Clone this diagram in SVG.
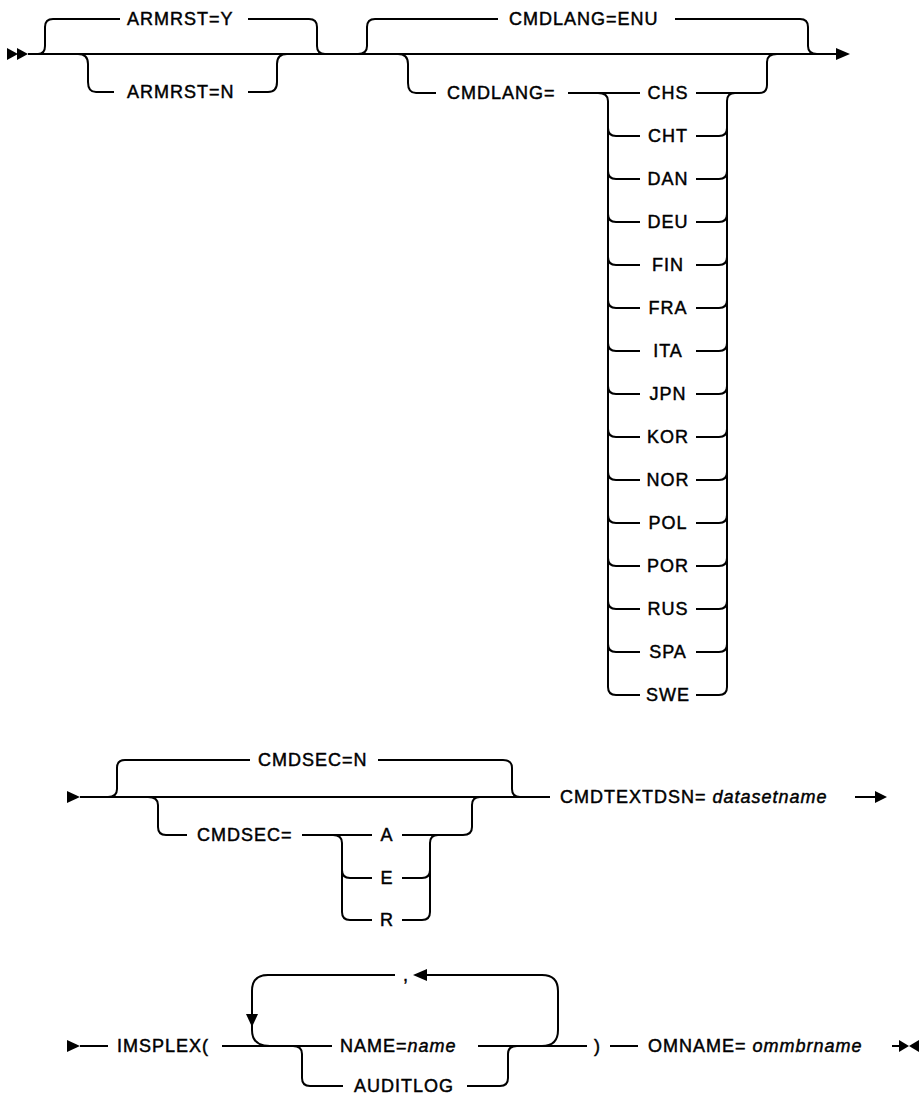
<svg xmlns="http://www.w3.org/2000/svg" width="921" height="1095" viewBox="0 0 921 1095">
<style>
.l{fill:none;stroke:#000;stroke-width:2;stroke-linecap:butt}
.h{fill:#000}
text{font-family:"Liberation Sans",Arial,sans-serif;font-size:18px;letter-spacing:1px;fill:#000;stroke:#000;stroke-width:0.45px}
.i{font-style:italic}
.c{text-anchor:middle}
</style>
<rect width="921" height="1095" fill="#fff"/>
<g id="connectors">
<path class="l" d="M28 54 H836"/>
<path class="l" d="M38 54 Q45 54 45 46 V27 Q45 19 53 19 H120 M248 19 H309 Q317 19 317 27 V46 Q317 54 325 54"/>
<path class="l" d="M78 54 Q88 54 88 64 V82 Q88 92 96 92 H114 M248 92 H268 Q277 92 277 82 V64 Q277 54 287 54"/>
<path class="l" d="M358 54 Q367 54 367 46 V27 Q367 19 375 19 H498 M675 19 H800 Q808 19 808 27 V46 Q808 54 817 54"/>
<path class="l" d="M398 54 Q408 54 408 64 V83 Q408 93 416 93 H436 M568 93 H640"/>
<path class="l" d="M598 93 Q608 93 608 101 V687"/>
<path class="l" d="M608 128 Q608 136 616 136 H640 M608 171 Q608 179 616 179 H640 M608 214 Q608 222 616 222 H640 M608 257 Q608 265 616 265 H640 M608 300 Q608 308 616 308 H640 M608 343 Q608 351 616 351 H640 M608 386 Q608 394 616 394 H640 M608 429 Q608 437 616 437 H640 M608 472 Q608 480 616 480 H640 M608 515 Q608 523 616 523 H640 M608 558 Q608 566 616 566 H640 M608 601 Q608 609 616 609 H640 M608 644 Q608 652 616 652 H640 M608 687 Q608 695 616 695 H640"/>
<path class="l" d="M696 93 H759 Q767 93 767 85 V62 Q767 54 777 54 M727 101 Q727 93 735 93 M727 101 V687"/>
<path class="l" d="M696 136 H719 Q727 136 727 128 M696 179 H719 Q727 179 727 171 M696 222 H719 Q727 222 727 214 M696 265 H719 Q727 265 727 257 M696 308 H719 Q727 308 727 300 M696 351 H719 Q727 351 727 343 M696 394 H719 Q727 394 727 386 M696 437 H719 Q727 437 727 429 M696 480 H719 Q727 480 727 472 M696 523 H719 Q727 523 727 515 M696 566 H719 Q727 566 727 558 M696 609 H719 Q727 609 727 601 M696 652 H719 Q727 652 727 644 M696 695 H719 Q727 695 727 687"/>
<polygon class="h" points="7,48 18,54 7,60"/>
<polygon class="h" points="17,48 28,54 17,60"/>
<polygon class="h" points="836,48 850,54 836,60"/>
<polygon class="h" points="67,791 80,797 67,803"/>
<path class="l" d="M80 797 H550"/>
<path class="l" d="M108 797 Q117 797 117 789 V768 Q117 760 125 760 H250 M378 760 H503 Q512 760 512 768 V789 Q512 797 520 797"/>
<path class="l" d="M148 797 Q158 797 158 805 V827 Q158 835 166 835 H187 M302 835 H372"/>
<path class="l" d="M333 835 Q342 835 342 843 V912 M342 870 Q342 878 350 878 H372 M342 912 Q342 920 350 920 H372"/>
<path class="l" d="M402 835 H463 Q472 835 472 827 V805 Q472 797 480 797 M430 843 Q430 835 438 835 M430 843 V912 M402 878 H422 Q430 878 430 870 M402 920 H422 Q430 920 430 912"/>
<path class="l" d="M855 797 H877"/>
<polygon class="h" points="875,791 887,797 875,803"/>
<polygon class="h" points="67,1040 80,1046 67,1052"/>
<path class="l" d="M80 1046 H108 M222 1046 H332"/>
<path class="l" d="M270 1046 Q252 1046 252 1030 V991 Q252 975 268 975 H395 M427 975 H542 Q558 975 558 991 V1030 Q558 1046 542 1046"/>
<polygon class="h" points="413,975 427,969 427,981"/>
<polygon class="h" points="246,1014 258,1014 252,1027"/>
<path class="l" d="M478 1046 H587 M610 1046 H638"/>
<path class="l" d="M293 1046 Q302 1046 302 1054 V1078 Q302 1086 310 1086 H343 M467 1086 H500 Q508 1086 508 1078 V1054 Q508 1046 517 1046"/>
<path class="l" d="M892 1046 H902"/>
<polygon class="h" points="899,1040 909,1046 899,1052"/>
<polygon class="h" points="919,1040 909,1046 919,1052"/>
</g>
<g id="n-armrst-y"><text x="127" y="25">ARMRST=Y</text></g>
<g id="n-armrst-n"><text x="127" y="98">ARMRST=N</text></g>
<g id="n-cmdlang-enu"><text x="509" y="25">CMDLANG=ENU</text></g>
<g id="n-cmdlang"><text x="447" y="99">CMDLANG=</text></g>
<g id="n-chs"><text class="c" x="668" y="99">CHS</text></g>
<g id="n-cht"><text class="c" x="668" y="142">CHT</text></g>
<g id="n-dan"><text class="c" x="668" y="185">DAN</text></g>
<g id="n-deu"><text class="c" x="668" y="228">DEU</text></g>
<g id="n-fin"><text class="c" x="668" y="271">FIN</text></g>
<g id="n-fra"><text class="c" x="668" y="314">FRA</text></g>
<g id="n-ita"><text class="c" x="668" y="357">ITA</text></g>
<g id="n-jpn"><text class="c" x="668" y="400">JPN</text></g>
<g id="n-kor"><text class="c" x="668" y="443">KOR</text></g>
<g id="n-nor"><text class="c" x="668" y="486">NOR</text></g>
<g id="n-pol"><text class="c" x="668" y="529">POL</text></g>
<g id="n-por"><text class="c" x="668" y="572">POR</text></g>
<g id="n-rus"><text class="c" x="668" y="615">RUS</text></g>
<g id="n-spa"><text class="c" x="668" y="658">SPA</text></g>
<g id="n-swe"><text class="c" x="668" y="701">SWE</text></g>
<g id="n-cmdsec-n"><text x="258" y="766">CMDSEC=N</text></g>
<g id="n-cmdsec"><text x="197" y="841">CMDSEC=</text></g>
<g id="n-a"><text class="c" x="387" y="841">A</text></g>
<g id="n-e"><text class="c" x="387" y="884">E</text></g>
<g id="n-r"><text class="c" x="387" y="926">R</text></g>
<g id="n-cmdtextdsn"><text x="560" y="803">CMDTEXTDSN= <tspan class="i">datasetname</tspan></text></g>
<g id="n-imsplex"><text x="117" y="1052">IMSPLEX(</text></g>
<g id="n-comma"><text x="403" y="981">,</text></g>
<g id="n-name"><text x="340" y="1052">NAME=<tspan class="i">name</tspan></text></g>
<g id="n-auditlog"><text x="354" y="1092">AUDITLOG</text></g>
<g id="n-paren"><text x="594" y="1052">)</text></g>
<g id="n-omname"><text x="648" y="1052">OMNAME= <tspan class="i">ommbrname</tspan></text></g>
</svg>
